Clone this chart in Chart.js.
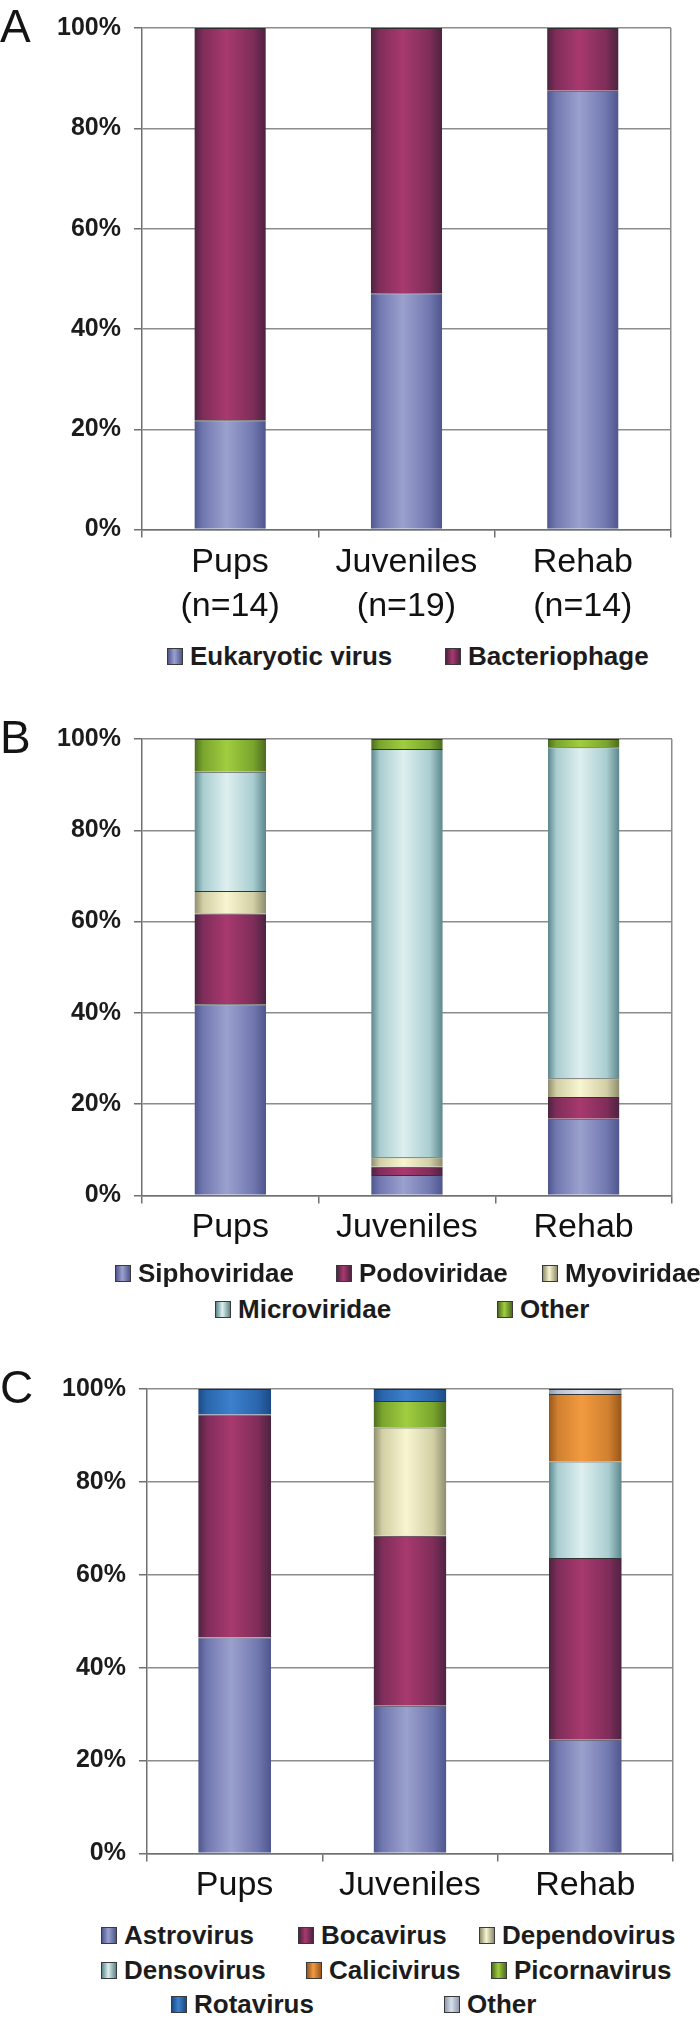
<!DOCTYPE html>
<html>
<head>
    <title>Virome composition by age group</title>
    <script src="https://cdn.jsdelivr.net/npm/chart.js"></script>
    <style>
        html, body {
            margin: 0;
            background: #fff;
            overflow: hidden;
        }
        .panel {
            position: relative;
            width: 700px;
            overflow: hidden;
        }
        .plot {
            position: absolute;
            left: 0;
            top: 0;
            width: 700px;
        }
        .legend-item {
            position: absolute;
            display: flex;
            align-items: center;
            height: 26px;
            font-family: 'Liberation Sans', Arial, sans-serif;
            font-weight: bold;
            font-size: 26px;
            color: #1c1c1c;
            white-space: nowrap;
        }
        .swatch {
            width: 14px;
            height: 15px;
            border: 1px solid #3a3a3a;
            margin-right: 7px;
        }
    </style>
</head>
<body>
    <div class="panel" id="panelA" style="height:690px">
        <div class="plot" style="height:640px"><canvas id="chartA"></canvas></div>
    </div>
    <div class="panel" id="panelB" style="height:650px">
        <div class="plot" style="height:570px"><canvas id="chartB"></canvas></div>
    </div>
    <div class="panel" id="panelC" style="height:678px">
        <div class="plot" style="height:580px"><canvas id="chartC"></canvas></div>
    </div>

    <script>
        // categories
        const groups = ['Pups', 'Juveniles', 'Rehab'];
        const groupSizes = ['(n=14)', '(n=19)', '(n=14)'];
        const yTicks = [0, 20, 40, 60, 80, 100];

        // A - eukaryotic virus vs bacteriophage (% of reads)
        const hostNames = ['Eukaryotic virus', 'Bacteriophage'];
        const eukaryoticVirus = [21.8, 47.1, 87.5];
        const bacteriophage = [78.2, 52.9, 12.5];

        // B - phage families
        const phageNames = ['Siphoviridae', 'Podoviridae', 'Myoviridae', 'Microviridae', 'Other'];
        const siphoviridae = [41.9, 4.5, 16.8];
        const podoviridae = [19.9, 1.8, 4.8];
        const myoviridae = [4.9, 2.1, 4.1];
        const microviridae = [26.1, 89.4, 72.5];
        const otherPhage = [7.2, 2.2, 1.8];

        // C - eukaryotic virus groups
        const virusNames = ['Astrovirus', 'Bocavirus', 'Dependovirus', 'Densovirus',
                            'Calicivirus', 'Picornavirus', 'Rotavirus', 'Other'];
        const astrovirus = [46.5, 31.8, 24.5];
        const bocavirus = [48.0, 36.6, 39.1];
        const dependovirus = [0, 23.3, 0];
        const densovirus = [0, 0, 20.8];
        const calicivirus = [0, 0, 14.5];
        const picornavirus = [0, 5.7, 0];
        const rotavirus = [5.5, 2.6, 0];
        const otherVirus = [0, 0, 1.1];

        const FONT = "'Liberation Sans', Arial, sans-serif";

        // shaded "cylinder" colours (dark edge, mid, light centre)
        const shades = {
            lavender: ['#4f568e', '#7178b0', '#9ba1cd'],
            magenta:  ['#4c2340', '#7f2d5a', '#a8396f'],
            cream:    ['#8d8c6c', '#d2cfa6', '#f8f6d0'],
            aqua:     ['#5b868c', '#a9cdd0', '#deefef'],
            green:    ['#4d6b20', '#7aa52e', '#a0cd40'],
            orange:   ['#98561c', '#d0802f', '#f29a40'],
            blue:     ['#1b4a85', '#2a66ad', '#3d80cc'],
            silver:   ['#8f9ab0', '#b8c1d3', '#d8dfeb']
        };

        function cylinder(shade, barPct) {
            return function(ctx) {
                const chart = ctx.chart;
                const area = chart.chartArea;
                if (!area || ctx.type !== 'data') return shade[2];
                const x = chart.scales.x.getPixelForValue(ctx.dataIndex);
                const w = (area.right - area.left) / chart.data.labels.length * barPct;
                const g = chart.ctx.createLinearGradient(x - w / 2, 0, x + w / 2, 0);
                g.addColorStop(0, shade[0]);
                g.addColorStop(0.12, shade[1]);
                g.addColorStop(0.45, shade[2]);
                g.addColorStop(0.82, shade[1]);
                g.addColorStop(1, shade[0]);
                return g;
            };
        }

        const panelLetter = {
            id: 'panelLetter',
            afterDraw(chart, args, opts) {
                const c = chart.ctx;
                c.save();
                c.font = '46px ' + FONT;
                c.fillStyle = '#141414';
                c.textBaseline = 'alphabetic';
                c.fillText(opts.text, 0, chart.chartArea.top + 14);
                c.restore();
            }
        };

        function makeChart(id, letter, labels, names, series, colours, cfg) {
            const datasets = series.map((values, i) => ({
                label: names[i],
                data: values,
                backgroundColor: cylinder(shades[colours[i]], cfg.barPct),
                borderColor: 'rgba(30,30,30,0.9)',
                borderWidth: { top: 1, left: 0, right: 0, bottom: 0 },
                borderSkipped: false,
                categoryPercentage: 1,
                barPercentage: cfg.barPct
            }));

            return new Chart(document.getElementById(id), {
                type: 'bar',
                data: { labels: labels, datasets: datasets },
                plugins: [panelLetter],
                options: {
                    responsive: true,
                    maintainAspectRatio: false,
                    animation: false,
                    layout: { padding: cfg.padding },
                    plugins: {
                        legend: { display: false },
                        tooltip: { enabled: false },
                        panelLetter: { text: letter }
                    },
                    scales: {
                        x: {
                            stacked: true,
                            offset: true,
                            grid: {
                                offset: true,
                                color: c => c.type === 'scale' ? '#8c8c8c' : 'rgba(0,0,0,0)',
                                lineWidth: 1.5,
                                tickColor: '#707070',
                                tickLength: 8
                            },
                            border: { color: '#707070', width: 1.5 },
                            ticks: {
                                color: '#111',
                                font: { family: FONT, size: 34, lineHeight: cfg.labelLineHeight },
                                padding: 3,
                                maxRotation: 0,
                                autoSkip: false
                            }
                        },
                        y: {
                            stacked: true,
                            min: 0,
                            max: 100,
                            afterBuildTicks: axis => { axis.ticks = yTicks.map(v => ({ value: v })); },
                            grid: {
                                color: '#8c8c8c',
                                lineWidth: 1.5,
                                tickColor: '#707070',
                                tickLength: 8
                            },
                            border: { color: '#707070', width: 1.5 },
                            ticks: {
                                color: '#1c1c1c',
                                font: { family: FONT, size: 25, weight: 'bold' },
                                padding: 13,
                                callback: v => v + '%'
                            }
                        }
                    }
                }
            });
        }

        function makeLegend(panelId, names, colours, rows) {
            const panel = document.getElementById(panelId);
            rows.forEach(row => {
                row.items.forEach(([idx, left]) => {
                    const s = shades[colours[idx]];
                    const item = document.createElement('div');
                    item.className = 'legend-item';
                    item.style.left = left + 'px';
                    item.style.top = (row.y - 13) + 'px';
                    const sw = document.createElement('span');
                    sw.className = 'swatch';
                    sw.style.background = 'linear-gradient(to right,' + s[0] + ',' + s[2] + ' 45%,' + s[0] + ')';
                    item.appendChild(sw);
                    item.appendChild(document.createTextNode(names[idx]));
                    panel.appendChild(item);
                });
            });
        }

        // A
        const coloursA = ['lavender', 'magenta'];
        makeChart('chartA', 'A', groups.map((g, i) => [g, groupSizes[i]]), hostNames,
            [eukaryoticVirus, bacteriophage], coloursA,
            { barPct: 0.405, labelLineHeight: 1.3, padding: { left: 44, right: 29, top: 25, bottom: 8 } });
        makeLegend('panelA', hostNames, coloursA, [
            { y: 656, items: [[0, 167], [1, 445]] }
        ]);

        // B
        const coloursB = ['lavender', 'magenta', 'cream', 'aqua', 'green'];
        makeChart('chartB', 'B', groups, phageNames,
            [siphoviridae, podoviridae, myoviridae, microviridae, otherPhage], coloursB,
            { barPct: 0.405, labelLineHeight: 1.25, padding: { left: 44, right: 28, top: 49, bottom: 8 } });
        makeLegend('panelB', phageNames, coloursB, [
            { y: 583, items: [[0, 115], [1, 336], [2, 542]] },
            { y: 619, items: [[3, 215], [4, 497]] }
        ]);

        // C
        const coloursC = ['lavender', 'magenta', 'cream', 'aqua', 'orange', 'green', 'blue', 'silver'];
        makeChart('chartC', 'C', groups, virusNames,
            [astrovirus, bocavirus, dependovirus, densovirus, calicivirus, picornavirus, rotavirus, otherVirus],
            coloursC,
            { barPct: 0.415, labelLineHeight: 1.25, padding: { left: 49, right: 27, top: 49, bottom: 10 } });
        makeLegend('panelC', virusNames, coloursC, [
            { y: 595, items: [[0, 101], [1, 298], [2, 479]] },
            { y: 630, items: [[3, 101], [4, 306], [5, 491]] },
            { y: 664, items: [[6, 171], [7, 444]] }
        ]);
    </script>
</body>
</html>
